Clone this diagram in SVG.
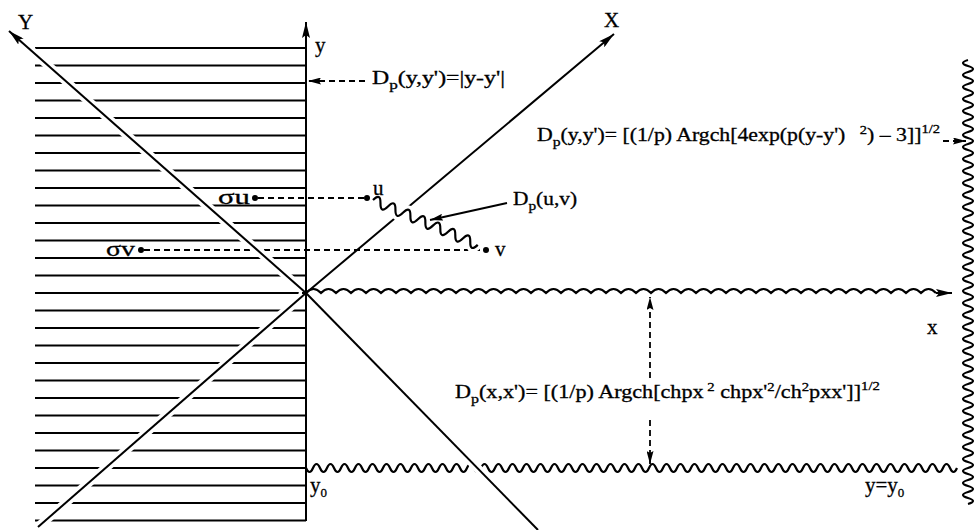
<svg xmlns="http://www.w3.org/2000/svg" width="976" height="530" viewBox="0 0 976 530">
<style>
.ln{stroke:#000;stroke-width:2;fill:none}
.hatch line{stroke:#000;stroke-width:2.2}
.dash{stroke:#000;stroke-width:1.8;stroke-dasharray:6 4;fill:none}
.wave{stroke:#000;stroke-width:2.2;fill:none}
.halo{stroke:#fff;stroke-width:9;fill:none}
text{font-family:"Liberation Serif","Times New Roman",serif;fill:#000;stroke:#000;stroke-width:0.3}
.lbl{font-size:18px}
.sub{font-size:13px}
.sup{font-size:12px}
.big{font-size:21px}
</style>
<defs>
<marker id="ah" viewBox="0 0 16 8" refX="16" refY="4" markerWidth="16" markerHeight="8" markerUnits="userSpaceOnUse" orient="auto"><path d="M0,0 L16,4 L0,8 L3,4 z" fill="#000"/></marker>
<marker id="ahs" viewBox="0 0 13 7" refX="13" refY="3.5" markerWidth="13" markerHeight="7" markerUnits="userSpaceOnUse" orient="auto"><path d="M0,0 L13,3.5 L0,7 L2,3.5 z" fill="#000"/></marker>
<clipPath id="haloclip"><rect x="0" y="0" width="302" height="530"/><rect x="420" y="452" width="120" height="34"/></clipPath>
</defs>
<rect width="976" height="530" fill="#fff"/>

<g id="hatch" class="hatch">
<line x1="35" y1="48" x2="306" y2="48"/>
<line x1="35" y1="65.5" x2="306" y2="65.5"/>
<line x1="35" y1="83" x2="306" y2="83"/>
<line x1="35" y1="100.5" x2="306" y2="100.5"/>
<line x1="35" y1="118" x2="306" y2="118"/>
<line x1="35" y1="135.5" x2="306" y2="135.5"/>
<line x1="35" y1="153" x2="306" y2="153"/>
<line x1="35" y1="170.5" x2="306" y2="170.5"/>
<line x1="35" y1="188" x2="306" y2="188"/>
<line x1="35" y1="205.5" x2="306" y2="205.5"/>
<line x1="35" y1="223" x2="306" y2="223"/>
<line x1="35" y1="240.5" x2="306" y2="240.5"/>
<line x1="35" y1="258" x2="306" y2="258"/>
<line x1="35" y1="275.5" x2="306" y2="275.5"/>
<line x1="35" y1="293" x2="306" y2="293"/>
<line x1="35" y1="310.5" x2="306" y2="310.5"/>
<line x1="35" y1="328" x2="306" y2="328"/>
<line x1="35" y1="345.5" x2="306" y2="345.5"/>
<line x1="35" y1="363" x2="306" y2="363"/>
<line x1="35" y1="380.5" x2="306" y2="380.5"/>
<line x1="35" y1="398" x2="306" y2="398"/>
<line x1="35" y1="415.5" x2="306" y2="415.5"/>
<line x1="35" y1="433" x2="306" y2="433"/>
<line x1="35" y1="450.5" x2="306" y2="450.5"/>
<line x1="35" y1="468" x2="306" y2="468"/>
<line x1="35" y1="485.5" x2="306" y2="485.5"/>
<line x1="35" y1="503" x2="306" y2="503"/>
<line x1="35" y1="520.5" x2="306" y2="520.5"/>
</g>

<g id="waves">
<path id="wave-y0" class="wave" d="M306,468 q3.5,8 7,0 t7,0 t7,0 t7,0 t7,0 t7,0 t7,0 t7,0 t7,0 t7,0 t7,0 t7,0 t7,0 t7,0 t7,0 t7,0 t7,0 t7,0 t7,0 t7,0 t7,0 t7,0 t7,0 t7,0 t7,0 t7,0 t7,0 t7,0 t7,0 t7,0 t7,0 t7,0 t7,0 t7,0 t7,0 t7,0 t7,0 t7,0 t7,0 t7,0 t7,0 t7,0 t7,0 t7,0 t7,0 t7,0 t7,0 t7,0 t7,0 t7,0 t7,0 t7,0 t7,0 t7,0 t7,0 t7,0 t7,0 t7,0 t7,0 t7,0 t7,0 t7,0 t7,0 t7,0 t7,0 t7,0 t7,0 t7,0 t7,0 t7,0 t7,0 t7,0 t7,0 t7,0 t7,0 t7,0 t7,0 t7,0 t7,0 t7,0 t7,0 t7,0 t7,0 t7,0 t7,0 t7,0 t7,0 t7,0 t7,0 t7,0 t7,0 t7,0 t7,0"/>
<path id="wave-right" class="wave" stroke-width="2.6" d="M968,60 q-10,3 0,6 t0,6 t0,6 t0,6 t0,6 t0,6 t0,6 t0,6 t0,6 t0,6 t0,6 t0,6 t0,6 t0,6 t0,6 t0,6 t0,6 t0,6 t0,6 t0,6 t0,6 t0,6 t0,6 t0,6 t0,6 t0,6 t0,6 t0,6 t0,6 t0,6 t0,6 t0,6 t0,6 t0,6 t0,6 t0,6 t0,6 t0,6 t0,6 t0,6 t0,6 t0,6 t0,6 t0,6 t0,6 t0,6 t0,6 t0,6 t0,6 t0,6 t0,6 t0,6 t0,6 t0,6 t0,6 t0,6 t0,6 t0,6 t0,6 t0,6 t0,6 t0,6 t0,6 t0,6 t0,6 t0,6 t0,6 t0,6 t0,6 t0,6 t0,6 t0,6 t0,6 t0,6"/>
<path id="wave-x" class="wave" stroke-width="2.8" d="M306,293 q7.5,-8 15,0 q7.5,-8 15,0 q7.5,-8 15,0 q7.5,-8 15,0 q7.5,-8 15,0 q7.5,-8 15,0 q7.5,-8 15,0 q7.5,-8 15,0 q7.5,-8 15,0 q7.5,-8 15,0 q7.5,-8 15,0 q7.5,-8 15,0 q7.5,-8 15,0 q7.5,-8 15,0 q7.5,-8 15,0 q7.5,-8 15,0 q7.5,-8 15,0 q7.5,-8 15,0 q7.5,-8 15,0 q7.5,-8 15,0 q7.5,-8 15,0 q7.5,-8 15,0 q7.5,-8 15,0 q7.5,-8 15,0 q7.5,-8 15,0 q7.5,-8 15,0 q7.5,-8 15,0 q7.5,-8 15,0 q7.5,-8 15,0 q7.5,-8 15,0 q7.5,-8 15,0 q7.5,-8 15,0 q7.5,-8 15,0 q7.5,-8 15,0 q7.5,-8 15,0 q7.5,-8 15,0 q7.5,-8 15,0 q7.5,-8 15,0 q7.5,-8 15,0 q7.5,-8 15,0 q7.5,-8 15,0 q7.5,-8 15,0"/>
</g>

<g id="dashed-lines">
<line class="dash" x1="258" y1="198" x2="364" y2="198"/>
<line class="dash" x1="144" y1="250" x2="483" y2="250"/>
</g>

<g id="halos" clip-path="url(#haloclip)">
<line class="halo" x1="306" y1="293" x2="9" y2="31"/>
<line class="halo" x1="306" y1="293" x2="38" y2="527"/>
<line class="halo" x1="306" y1="293" x2="538" y2="530" stroke-width="14"/>
</g>

<g id="axes">
<line id="axis-y" class="ln" x1="306" y1="521" x2="306" y2="22" marker-end="url(#ah)"/>
<line id="axis-Y" class="ln" x1="306" y1="293" x2="9" y2="31" marker-end="url(#ah)"/>
<line id="axis-Y-low" class="ln" x1="306" y1="293" x2="538" y2="530"/>
<line id="axis-X" class="ln" x1="306" y1="293" x2="614" y2="34" marker-end="url(#ah)"/>
<line id="axis-X-low" class="ln" x1="306" y1="293" x2="38" y2="527"/>
<line id="axis-x-tip" class="ln" stroke-width="2.6" x1="936" y1="293" x2="952" y2="293" marker-end="url(#ah)"/>
</g>

<g id="uv-path" transform="translate(373,200) rotate(23.2)">
<path class="halo" stroke-width="8" d="M0,0 q4.07,-10 8.14,0 t8.14,0 t8.14,0 t8.14,0 t8.14,0 t8.14,0 t8.14,0 t8.14,0 t8.14,0 t8.14,0 t8.14,0 t8.14,0 t8.14,0 t8.14,0"/>
<path class="wave" d="M0,0 q4.07,-10 8.14,0 t8.14,0 t8.14,0 t8.14,0 t8.14,0 t8.14,0 t8.14,0 t8.14,0 t8.14,0 t8.14,0 t8.14,0 t8.14,0 t8.14,0 t8.14,0"/>
</g>

<g id="points">
<circle cx="255" cy="198" r="3"/>
<circle cx="367" cy="198" r="3"/>
<circle cx="141" cy="250" r="3"/>
<circle cx="486" cy="250" r="3"/>
</g>

<g id="connectors">
<line class="dash" x1="365" y1="81" x2="308" y2="81" marker-end="url(#ahs)"/>
<line class="dash" x1="943" y1="141" x2="966" y2="141" marker-end="url(#ahs)"/>
<line class="ln" stroke-width="1.8" x1="507" y1="203" x2="430" y2="220" marker-end="url(#ahs)"/>
<line class="dash" x1="650" y1="378" x2="650" y2="297" marker-end="url(#ahs)"/>
<line class="dash" x1="650" y1="420" x2="650" y2="464" marker-end="url(#ahs)"/>
</g>

<g id="labels">
<text class="big" x="18" y="29">Y</text>
<text class="big" x="604" y="27">X</text>
<text class="big" x="315" y="52">y</text>
<text class="big" x="927" y="334">x</text>
<text class="big" x="218" y="204" textLength="32" lengthAdjust="spacingAndGlyphs">σu</text>
<text class="big" x="106" y="256" textLength="29" lengthAdjust="spacingAndGlyphs">σv</text>
<text class="big" x="373" y="195">u</text>
<text class="big" x="495" y="256">v</text>
<text class="big" x="310" y="492">y<tspan class="sub" dy="5">0</tspan></text>
<text class="big" x="865" y="492">y=y<tspan class="sub" dy="5">0</tspan></text>
<text class="lbl" x="513" y="205" textLength="64" lengthAdjust="spacingAndGlyphs">D<tspan class="sub" dy="5">p</tspan><tspan dy="-5">(u,v)</tspan></text>
<text class="lbl" x="372" y="84" textLength="133" lengthAdjust="spacingAndGlyphs">D<tspan class="sub" dy="5">p</tspan><tspan dy="-5">(y,y')=|y-y'|</tspan></text>
<text class="lbl" x="537" y="141" textLength="403" lengthAdjust="spacingAndGlyphs">D<tspan class="sub" dy="5">p</tspan><tspan dy="-5">(y,y')= [(1/p) Argch[4exp(p(y-y')</tspan><tspan class="sup" dx="12" dy="-7">2</tspan><tspan dy="7">) – 3]]</tspan><tspan class="sup" dy="-8">1/2</tspan></text>
<text class="lbl" x="455" y="398" textLength="425" lengthAdjust="spacingAndGlyphs">D<tspan class="sub" dy="5">p</tspan><tspan dy="-5">(x,x')= [(1/p) Argch[chpx</tspan><tspan class="sup" dx="3" dy="-7">2</tspan><tspan dy="7"> chpx'</tspan><tspan class="sup" dy="-7">2</tspan><tspan dy="7">/ch</tspan><tspan class="sup" dy="-7">2</tspan><tspan dy="7">pxx']]</tspan><tspan class="sup" dy="-8">1/2</tspan></text>
</g>
</svg>
